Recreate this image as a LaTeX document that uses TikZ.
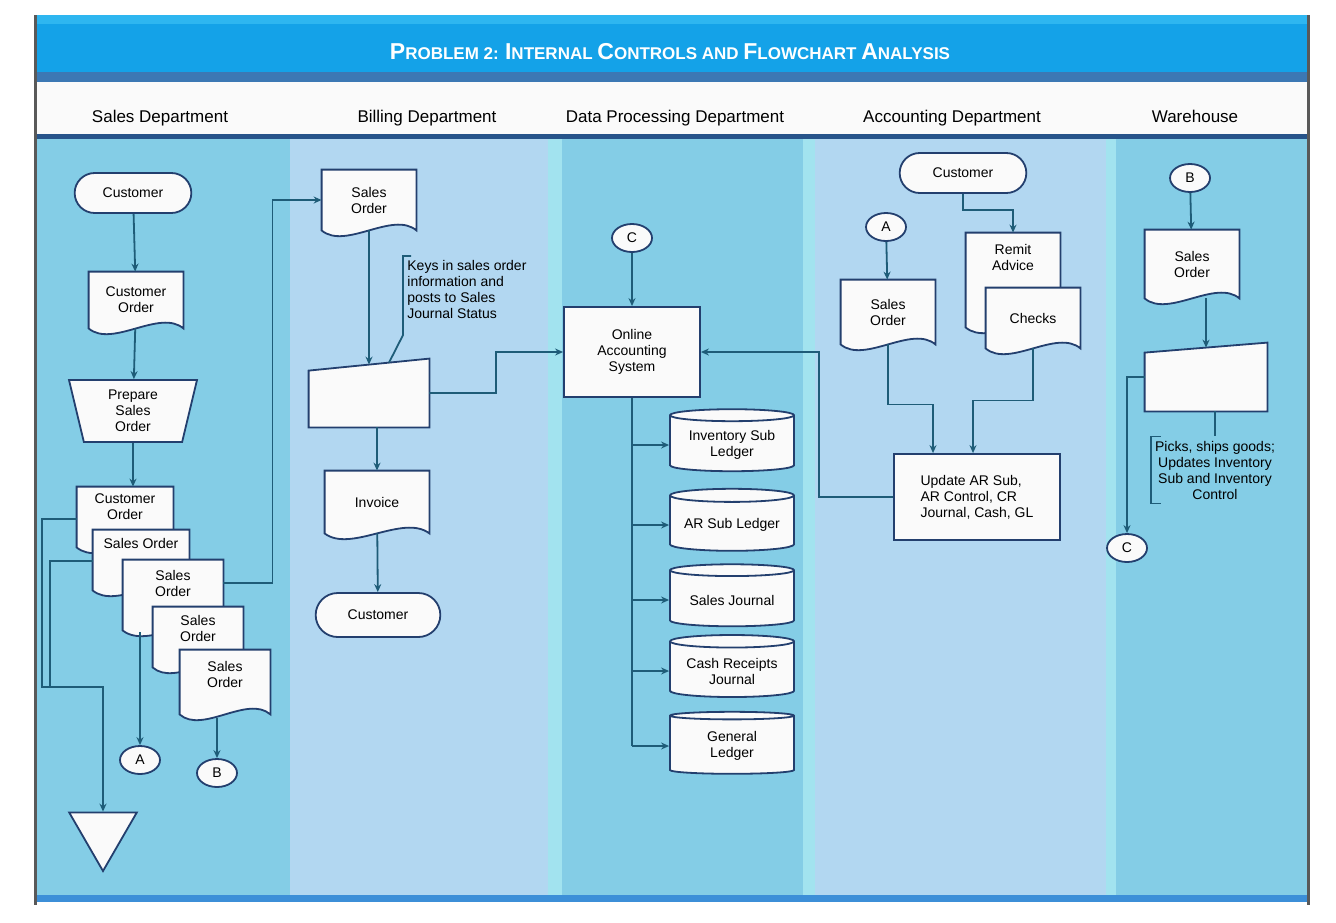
\documentclass[tikz,border=0pt]{standalone}
\usepackage{fontspec}
\setmainfont{Liberation Sans}
\usetikzlibrary{shapes.geometric, shapes.misc, positioning, calc, arrows.meta}

\definecolor{titletop}{HTML}{2EB6F0}
\definecolor{titleblue}{HTML}{14A2E8}
\definecolor{titledark}{HTML}{3C78B4}
\definecolor{headrule}{HTML}{27548A}
\definecolor{paper}{HTML}{FAFAFA}
\definecolor{boxline}{HTML}{233F6E}
\definecolor{flowline}{HTML}{1E5C78}
\definecolor{lanecyan}{HTML}{84CDE6}
\definecolor{laneblue}{HTML}{B2D7F1}
\definecolor{lanestrip}{HTML}{A2E3EF}
\definecolor{lanebase}{HTML}{3C8FD8}

\newcommand{\nodefont}{\fontsize{7}{8}\selectfont}
\newcommand{\capsletter}[1]{{\fontsize{11.5}{12}\selectfont #1}}

% symbols are drawn on a layer under the node texts
\pgfdeclarelayer{shapes}
\pgfsetlayers{shapes,main}

\tikzset{
box/.style={draw=boxline, fill=paper, line width=0.9pt}, % outline of every symbol
flow/.style={draw=flowline, line width=0.9pt, -{Stealth[length=4pt,width=3.5pt]}}, % directed connector
link/.style={draw=flowline, line width=0.9pt}, % plain connector
term/.style={rounded rectangle, box, minimum height=20pt, font=\nodefont}, % start / end
doc/.style={minimum width=47pt, inner sep=1pt, align=center, font=\nodefont}, % outline added later
proc/.style={rectangle, box, align=center, font=\nodefont},
store/.style={cylinder, shape border rotate=90, aspect=0.12, box, minimum width=62pt, minimum height=31pt, align=center, font=\nodefont},
conn/.style={ellipse, box, minimum width=20pt, minimum height=14pt, inner sep=0pt, font=\nodefont},
note/.style={align=left, font=\nodefont, inner sep=2pt},
head/.style={font=\fontsize{8.5}{10}\selectfont, text height=7pt, text depth=2pt},
}

% document symbol round a node: name, extra depth under the node
\newcommand{\docshape}[2]{%
  \draw[box] (#1.north west) -- (#1.north east) -- ([yshift=-#2]#1.south east)
    .. controls ([yshift=-#2+10pt]$(#1.south)!.5!(#1.south east)$) and ([yshift=-#2-10pt]$(#1.south)!.5!(#1.south west)$) .. ([yshift=-#2]#1.south west) -- cycle;}
% manual input symbol round a node: name, drop of the top left corner
\newcommand{\manualshape}[2]{%
  \draw[box] ([yshift=-#2]#1.north west) -- (#1.north east) -- (#1.south east) -- (#1.south west) -- cycle;}

\begin{document}
\begin{tikzpicture}[x=0.5pt, y=-0.5pt]
\useasboundingbox (0,0) rectangle (1336,922);

\begin{pgfonlayer}{shapes}
  \fill[white] (0,0) rectangle (1336,922);
  % title band and header row
  \fill[titletop] (35,15) rectangle (1308,24);
  \fill[titleblue] (35,24) rectangle (1308,72);
  \fill[titledark] (35,72) rectangle (1308,82);
  \fill[paper] (35,82) rectangle (1308,135);
  \fill[headrule] (35,134) rectangle (1308,139);
  % swim lanes
  \fill[lanecyan] (35,139) rectangle (290,898);
  \fill[laneblue] (290,139) rectangle (548,898);
  \fill[lanestrip] (548,139) rectangle (562,898);
  \fill[lanecyan] (562,139) rectangle (803,898);
  \fill[lanestrip] (803,139) rectangle (815,898);
  \fill[laneblue] (815,139) rectangle (1106,898);
  \fill[lanestrip] (1106,139) rectangle (1116,898);
  \fill[lanecyan] (1116,139) rectangle (1308,898);
  \fill[lanebase] (35,895) rectangle (1308,902);
  \draw[black!65, line width=1.5pt] (35,15) -- (35,905);
  \draw[black!65, line width=1.5pt] (1308,15) -- (1308,905);
\end{pgfonlayer}

\node[font=\fontsize{8.5}{10}\selectfont\bfseries, text=white] (ttl) at (670,52)
  {\capsletter{P}ROBLEM 2: \capsletter{I}NTERNAL \capsletter{C}ONTROLS AND \capsletter{F}LOWCHART \capsletter{A}NALYSIS};
\node[head] (hsales) at (160,117) {Sales Department};
\node[head] (hbill) at (427,117) {Billing Department};
\node[head] (hdp) at (675,117) {Data Processing Department};
\node[head] (hacct) at (952,117) {Accounting Department};
\node[head] (hwh) at (1195,117) {Warehouse};

% sales department
\node[term, minimum width=65pt] (cust1) at (133,193) {Customer};
\node[doc, minimum height=28pt] (co1) at (136,300) {Customer\\Order};
\node[trapezium, shape border rotate=180, trapezium left angle=72, trapezium right angle=72, trapezium stretches body,
      box, minimum width=64pt, minimum height=31pt, align=center, font=\nodefont, inner sep=1pt] (prep) at (133,411) {Prepare\\Sales\\Order};
\node[doc, minimum width=48pt, minimum height=20pt] (co2) at (125,507) {Customer\\Order};
\node[doc, minimum width=48pt, minimum height=13pt] (so1) at (141,543) {Sales Order};
\node[doc, minimum width=50pt, minimum height=23pt] (so2) at (173,583) {Sales\\Order};
\node[doc, minimum width=45pt, minimum height=21pt] (so3) at (198,628) {Sales\\Order};
\node[doc, minimum width=45pt, minimum height=24pt] (so4) at (225,674) {Sales\\Order};
\node[conn] (A1) at (140,760) {A};
\node[conn] (B1) at (217,773) {B};
\node[regular polygon, regular polygon sides=3, shape border rotate=180, box, minimum size=39pt, inner sep=0pt] (file) at (103,832) {};
\coordinate (tofile) at (42,687);

% billing department
\node[doc, minimum height=30pt] (sob) at (369,200) {Sales\\Order};
\node[minimum width=60pt, minimum height=34pt] (kin) at (369,393) {};
\node[note, anchor=north west] (kb) at (403,256) {Keys in sales order\\information and\\posts to Sales\\Journal Status};
\node[doc, minimum width=52pt, minimum height=31pt] (inv) at (377,502) {Invoice};
\node[term, minimum width=69pt, minimum height=22pt] (cust2) at (378,615) {Customer};

% data processing department
\node[conn] (C1) at (632,238) {C};
\node[proc, minimum width=68pt, minimum height=45pt] (oas) at (632,352) {Online\\Accounting\\System};
\node[store] (isl) at (732,445) {Inventory Sub\\Ledger};
\node[store] (arl) at (732,525) {AR Sub Ledger};
\node[store] (sj) at (732,600) {Sales Journal};
\node[store] (crj) at (732,671) {Cash Receipts\\Journal};
\node[store] (gl) at (732,746) {General\\Ledger};

% accounting department
\node[term, minimum width=70pt] (cust3) at (963,173) {Customer};
\node[conn] (A2) at (886,227) {A};
\node[doc, minimum height=32pt] (soa) at (888,312) {Sales\\Order};
\node[doc, minimum height=24pt] (rem) at (1013,257) {Remit\\Advice};
\node[doc, minimum height=30pt] (chk) at (1033,318) {Checks};
\node[proc, align=left, minimum width=83pt, minimum height=43pt] (upd) at (977,497) {Update AR Sub,\\AR Control, CR\\Journal, Cash, GL};

% warehouse
\node[conn] (B2) at (1190,178) {B};
\node[doc, minimum height=34pt] (sow) at (1192,264) {Sales\\Order};
\node[minimum width=61pt, minimum height=34pt] (wh) at (1206,377) {};
\node[note, align=center] (wn) at (1215,470) {Picks, ships goods;\\Updates Inventory\\Sub and Inventory\\Control};
\node[conn] (C2) at (1127,548) {C};

% document and manual input outlines
\begin{pgfonlayer}{shapes}
  \foreach \d/\e in {co1/0pt, co2/10pt, so1/17pt, so2/12pt, so3/9pt, so4/8pt, sob/0pt, inv/0pt, soa/0pt, rem/23pt, chk/0pt, sow/0pt}
    \docshape{\d}{\e};
  \manualshape{kin}{6pt}
  \manualshape{wh}{5pt}
\end{pgfonlayer}

% sales flows
\draw[flow] (cust1) -- (co1);
\draw[flow] (co1) -- (prep);
\draw[flow] (prep.south) -- (prep.south |- co2.north);
\draw[flow] ([yshift=-6pt]co2.west) -| (tofile) -| (file);
\draw[link] ([yshift=-9pt]so1.west) -| ([xshift=4pt]tofile);
\draw[flow] (so2.east) -| ($(so2.east)!.5!(sob.west)$) |- (sob.west);
\draw[flow] (so2.south -| A1) ++(0,-13pt) -- (A1);
\draw[flow] (so4.south -| B1) ++(0,-10pt) -- (B1);

% billing flows
\draw[flow] (sob) -- ([yshift=-3pt]kin.north);
\draw[link] ([xshift=4pt]kb.north west) -- (kb.north west) -- ([yshift=-6pt]kb.south west) -- ([xshift=10pt,yshift=-2pt]kin.north);
\draw[flow] (kin.south -| inv.north) -- (inv.north);
\draw[flow] (inv) -- (cust2);
\draw[flow] (kin.east) -| ($(kin.east)!.5!(oas.west)$) |- (oas.west);

% data processing flows
\draw[flow] (C1) -- (oas);
\draw[link] (oas.south) -- (oas.south |- gl);
\foreach \s in {isl, arl, sj, crj, gl}
  \draw[flow] (oas.south |- \s) -- (\s);
\draw[flow] (upd.west) -- ++(-37pt,0) |- (oas.east);

% accounting flows
\draw[flow] (cust3.south) -- ++(0,-8pt) -| (rem.north);
\draw[flow] (A2) -- (soa);
\draw[flow] (soa.south) -- ++(0,-30pt) -| ([xshift=-22pt]upd.north);
\draw[flow] (chk.south) -- ++(0,-26pt) -| ([xshift=-2pt]upd.north);

% warehouse flows
\draw[flow] (B2) -- (sow);
\draw[flow] (sow.south -| wh.north) -- ([yshift=-2.5pt]wh.north);
\draw[link] (wh.south -| wn.north) -- (wn.north);
\draw[link] ([xshift=5pt]wn.north west) -- (wn.north west) -- (wn.south west) -- ([xshift=5pt]wn.south west);
\draw[flow] (wh.west) -| (C2);
\end{tikzpicture}
\end{document}
